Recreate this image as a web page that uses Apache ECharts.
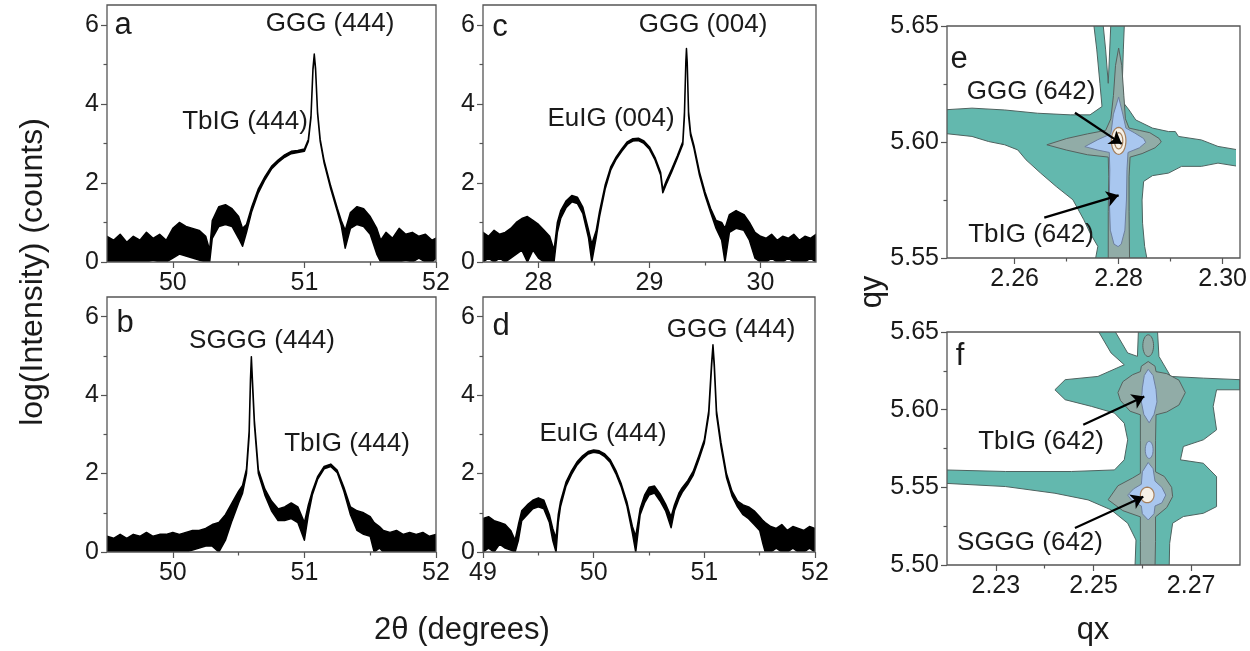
<!DOCTYPE html>
<html>
<head>
<meta charset="utf-8">
<script src="https://cdn.jsdelivr.net/npm/echarts@6/dist/echarts.min.js"></script>
<style>
html,body{margin:0;padding:0;background:#fff;}
#c{width:1250px;height:651px;}
</style>
</head>
<body>
<div id="c"></div>
<script>
// ---------------- DATA ----------------
// Panel a: TbIG on GGG (444), 2theta vs log(I); lo/hi = lower/upper envelope of the trace
const aX  = [49.50,49.55,49.60,49.65,49.70,49.75,49.80,49.85,49.90,49.95,50.00,50.05,50.10,50.15,50.20,50.25,50.28,50.30,50.35,50.40,50.45,50.50,50.53,50.56,50.60,50.65,50.70,50.75,50.80,50.85,50.90,50.95,51.00,51.03,51.05,51.065,51.075,51.085,51.10,51.12,51.15,51.20,51.25,51.28,51.31,51.35,51.40,51.45,51.50,51.55,51.58,51.62,51.67,51.72,51.77,51.82,51.87,51.92,51.97,52.00];
const aLo = [0,0,0,0,0,0,0,0.05,0,0,0.1,0.2,0.15,0.1,0.05,0,0,0.6,0.9,0.95,0.9,0.6,0.4,0.75,1.28,1.75,2.08,2.35,2.52,2.65,2.74,2.77,2.80,3.05,3.65,4.85,5.22,4.85,3.75,3.05,2.50,1.85,1.28,0.92,0.35,0.85,0.95,0.90,0.70,0.20,0,0,0,0,0.05,0,0.1,0,0,0.1];
const aHi = [0.65,0.55,0.70,0.50,0.65,0.55,0.75,0.60,0.70,0.55,0.85,1.00,0.90,0.85,0.80,0.65,0.30,1.05,1.40,1.45,1.35,1.15,0.85,0.95,1.40,1.85,2.16,2.42,2.58,2.71,2.80,2.82,2.86,3.10,3.70,4.90,5.26,4.90,3.80,3.10,2.56,1.92,1.36,1.05,0.80,1.25,1.40,1.35,1.15,0.85,0.55,0.75,0.60,0.85,0.70,0.75,0.65,0.70,0.55,0.60];

// Panel b: TbIG on SGGG (444)
const bX  = [49.50,49.55,49.60,49.65,49.70,49.75,49.80,49.85,49.90,49.95,50.00,50.05,50.10,50.15,50.20,50.25,50.30,50.35,50.40,50.45,50.50,50.53,50.56,50.58,50.59,50.597,50.605,50.62,50.65,50.70,50.75,50.80,50.85,50.90,50.95,51.00,51.03,51.06,51.10,51.15,51.20,51.25,51.30,51.35,51.40,51.45,51.50,51.53,51.57,51.60,51.65,51.70,51.75,51.80,51.85,51.90,51.95,52.00];
const bLo = [0,0,0,0,0,0,0,0,0,0,0,0,0,0.05,0.1,0.15,0.15,0,0.3,0.8,1.25,1.50,2.00,2.95,4.30,4.92,4.30,3.25,2.00,1.45,1.05,0.80,0.80,0.85,0.75,0.30,0.95,1.45,1.85,2.12,2.18,2.02,1.55,0.95,0.55,0.45,0.40,0,0.1,0,0,0,0,0,0,0,0,0];
const bHi = [0.40,0.35,0.45,0.35,0.45,0.40,0.50,0.40,0.45,0.45,0.50,0.45,0.50,0.55,0.55,0.60,0.70,0.75,0.95,1.25,1.55,1.70,2.12,3.08,4.40,4.98,4.40,3.35,2.10,1.60,1.30,1.10,1.15,1.25,1.15,0.75,1.20,1.55,1.92,2.18,2.24,2.08,1.65,1.15,1.05,1.00,0.90,0.75,0.65,0.55,0.50,0.55,0.45,0.50,0.45,0.50,0.40,0.45];

// Panel c: EuIG on GGG (004)
const cX  = [27.50,27.55,27.60,27.65,27.70,27.75,27.80,27.85,27.90,27.95,28.00,28.05,28.10,28.14,28.17,28.20,28.25,28.30,28.35,28.40,28.45,28.48,28.52,28.55,28.60,28.65,28.70,28.75,28.80,28.85,28.90,28.95,29.00,29.05,29.10,29.12,29.15,29.20,29.25,29.30,29.315,29.327,29.333,29.34,29.352,29.37,29.40,29.45,29.50,29.55,29.60,29.65,29.68,29.72,29.78,29.85,29.90,29.95,30.00,30.05,30.10,30.15,30.20,30.25,30.30,30.35,30.40,30.45,30.50];
const cLo = [0,0.1,0,0.1,0,0.1,0.2,0.3,0,0.3,0.1,0,0,0,0.75,1.10,1.38,1.52,1.48,1.22,0.62,0,0.62,1.15,1.84,2.32,2.60,2.80,2.98,3.06,3.07,3.00,2.85,2.58,2.20,1.75,1.96,2.28,2.62,2.97,3.70,5.00,5.35,5.00,3.70,3.20,2.88,2.20,1.69,1.26,0.85,0.55,0,0.75,0.85,0.80,0.55,0.10,0,0,0.1,0,0,0.1,0,0,0,0.1,0];
const cHi = [0.75,0.65,0.80,0.70,0.75,0.85,1.00,1.10,1.15,1.05,0.95,0.80,0.65,0.30,1.00,1.30,1.55,1.68,1.64,1.38,0.82,0.45,0.80,1.28,1.94,2.40,2.66,2.86,3.04,3.12,3.13,3.06,2.91,2.64,2.27,1.82,2.04,2.35,2.68,3.04,3.80,5.05,5.40,5.05,3.80,3.27,2.95,2.28,1.77,1.36,1.05,1.00,0.85,1.20,1.30,1.20,1.00,0.75,0.65,0.60,0.70,0.55,0.65,0.60,0.70,0.55,0.65,0.60,0.70];

// Panel d: EuIG on GGG (444)
const dX  = [49.00,49.05,49.10,49.15,49.20,49.25,49.29,49.32,49.35,49.40,49.45,49.50,49.55,49.60,49.63,49.66,49.68,49.70,49.75,49.80,49.85,49.90,49.95,50.00,50.05,50.10,50.15,50.20,50.25,50.30,50.35,50.38,50.42,50.46,50.50,50.55,50.60,50.65,50.70,50.73,50.77,50.80,50.85,50.90,50.95,51.00,51.04,51.065,51.078,51.09,51.11,51.15,51.20,51.25,51.30,51.35,51.40,51.45,51.50,51.53,51.55,51.60,51.65,51.70,51.75,51.80,51.85,51.90,51.95,52.00];
const dLo = [0,0.1,0,0.2,0.1,0.05,0,0.3,0.8,0.95,1.10,1.15,1.10,0.75,0.3,0,0.75,1.15,1.68,1.98,2.22,2.38,2.50,2.54,2.52,2.43,2.28,2.00,1.65,1.18,0.48,0,0.95,1.25,1.45,1.50,1.30,1.05,0.62,1.05,1.35,1.52,1.72,1.96,2.35,2.78,3.50,4.70,5.23,4.70,3.50,2.70,1.90,1.43,1.15,0.95,0.85,0.70,0.55,0.2,0,0,0.1,0,0,0.1,0,0,0.1,0];
const dHi = [0.85,0.90,0.80,0.75,0.70,0.55,0.30,0.70,1.05,1.20,1.32,1.38,1.32,0.95,0.60,0.35,0.95,1.28,1.78,2.07,2.30,2.45,2.56,2.60,2.58,2.50,2.35,2.08,1.73,1.28,0.65,0.40,1.10,1.45,1.65,1.68,1.48,1.22,0.90,1.20,1.50,1.64,1.82,2.06,2.45,2.86,3.60,4.80,5.28,4.80,3.60,2.80,2.00,1.55,1.30,1.20,1.15,1.05,0.90,0.80,0.75,0.65,0.60,0.70,0.55,0.65,0.60,0.55,0.65,0.60];

// Panel e: RSM contours (qx, qy), level 1 (lowest) .. level 4 (highest)
const eLevel1 = [[2.2752,5.651],[2.2770,5.651],[2.2775,5.6397],[2.2780,5.6253],[2.2785,5.651],[2.2811,5.651],[2.2809,5.6397],[2.2807,5.6253],[2.2810,5.6167],[2.2820,5.6138],[2.2833,5.6095],[2.2865,5.6060],[2.2896,5.6045],[2.2909,5.6045],[2.2915,5.6024],[2.2959,5.6009],[2.2991,5.5981],[2.3030,5.5966],[2.3030,5.5895],[2.2991,5.5909],[2.2959,5.5895],[2.2921,5.5895],[2.2896,5.5866],[2.2865,5.5855],[2.2848,5.5830],[2.2845,5.5750],[2.2846,5.5650],[2.2850,5.5550],[2.2855,5.5490],[2.2755,5.5490],[2.2760,5.5550],[2.2745,5.5608],[2.2733,5.5665],[2.2712,5.5751],[2.2680,5.5808],[2.2650,5.5866],[2.2622,5.5923],[2.2606,5.5966],[2.2581,5.5988],[2.2550,5.6002],[2.2518,5.6024],[2.2460,5.6038],[2.2460,5.6138],[2.2518,5.6146],[2.2581,5.6138],[2.2644,5.6124],[2.2707,5.6117],[2.2745,5.6117],[2.2768,5.6153],[2.2764,5.6253],[2.2758,5.6397]];
const eLevel2 = [[2.2800,5.6405],[2.2806,5.6330],[2.2810,5.6200],[2.2813,5.6100],[2.2820,5.6060],[2.2840,5.6050],[2.2860,5.6040],[2.2878,5.6015],[2.2882,5.6000],[2.2870,5.5975],[2.2845,5.5950],[2.2822,5.5935],[2.2820,5.5850],[2.2820,5.5700],[2.2821,5.5490],[2.2780,5.5490],[2.2780,5.5700],[2.2781,5.5850],[2.2780,5.5935],[2.2740,5.5945],[2.2700,5.5965],[2.2662,5.5988],[2.2700,5.6015],[2.2740,5.6035],[2.2775,5.6050],[2.2785,5.6100],[2.2790,5.6200],[2.2794,5.6330]];
const eLevel3 = [[2.2800,5.6194],[2.2808,5.6120],[2.2814,5.6060],[2.2830,5.6040],[2.2848,5.6015],[2.2852,5.5998],[2.2840,5.5975],[2.2818,5.5955],[2.2816,5.5880],[2.2815,5.5750],[2.2812,5.5620],[2.2805,5.5560],[2.2799,5.5549],[2.2791,5.5560],[2.2784,5.5620],[2.2782,5.5750],[2.2783,5.5880],[2.2782,5.5955],[2.2760,5.5965],[2.2735,5.5980],[2.2760,5.6010],[2.2785,5.6035],[2.2790,5.6120]];
const eLevel4 = [[2.2800,5.6005,0.0014,0.0058],[2.2800,5.6005,0.0008,0.0035]]; // centre qx, qy, half-widths
const eArrows = [[[2.2716,5.6126],[2.2806,5.5992]],[[2.2657,5.5674],[2.2800,5.5770]]];

// Panel f: RSM contours
const fLevel1 = [[2.2509,5.651],[2.2543,5.651],[2.2570,5.6365],[2.2590,5.6343],[2.2592,5.651],[2.2631,5.651],[2.2634,5.6343],[2.2658,5.6214],[2.2725,5.6203],[2.2800,5.6193],[2.2800,5.6128],[2.2752,5.6128],[2.2745,5.6021],[2.2752,5.5870],[2.2725,5.5806],[2.2684,5.5763],[2.2678,5.5677],[2.2725,5.5655],[2.2752,5.5569],[2.2752,5.5376],[2.2725,5.5333],[2.2684,5.5312],[2.2662,5.5269],[2.2656,5.5140],[2.2655,5.4990],[2.2585,5.4990],[2.2587,5.5161],[2.2570,5.5269],[2.2536,5.5355],[2.2489,5.5419],[2.2421,5.5462],[2.2320,5.5505],[2.2195,5.5526],[2.2195,5.5612],[2.2320,5.5602],[2.2455,5.5602],[2.2543,5.5612],[2.2563,5.5677],[2.2570,5.5806],[2.2563,5.5913],[2.2543,5.5978],[2.2496,5.6021],[2.2442,5.6064],[2.2421,5.6128],[2.2442,5.6193],[2.2509,5.6214],[2.2563,5.6289],[2.2536,5.6365]];
const fLevel2 = [[2.2612,5.6310],[2.2626,5.6280],[2.2628,5.6245],[2.2650,5.6232],[2.2675,5.6190],[2.2688,5.6110],[2.2675,5.6030],[2.2650,5.5985],[2.2628,5.5967],[2.2627,5.5800],[2.2627,5.5600],[2.2645,5.5570],[2.2660,5.5500],[2.2662,5.5440],[2.2650,5.5370],[2.2627,5.5310],[2.2627,5.5150],[2.2626,5.4990],[2.2596,5.4990],[2.2596,5.5150],[2.2596,5.5310],[2.2560,5.5350],[2.2530,5.5420],[2.2550,5.5510],[2.2580,5.5560],[2.2596,5.5590],[2.2596,5.5800],[2.2596,5.5967],[2.2575,5.5990],[2.2555,5.6060],[2.2550,5.6110],[2.2560,5.6180],[2.2580,5.6225],[2.2596,5.6245],[2.2598,5.6280]];
const fLevel2Spots = [[2.2612,5.6412,0.0011,0.0070]];
const fLevel3Up  = [[2.2612,5.6260],[2.2622,5.6220],[2.2628,5.6130],[2.2630,5.6050],[2.2624,5.5970],[2.2614,5.5915],[2.2603,5.5970],[2.2598,5.6050],[2.2600,5.6140],[2.2604,5.6220]];
const fLevel3Low = [[2.2612,5.5660],[2.2622,5.5620],[2.2626,5.5540],[2.2640,5.5500],[2.2648,5.5450],[2.2640,5.5400],[2.2626,5.5380],[2.2624,5.5330],[2.2612,5.5290],[2.2600,5.5330],[2.2598,5.5380],[2.2580,5.5410],[2.2570,5.5450],[2.2582,5.5490],[2.2598,5.5520],[2.2600,5.5600]];
const fLevel3Spots = [[2.2614,5.5741,0.0008,0.0055]];
const fLevel4 = [[2.2610,5.5451,0.0014,0.0050]];
const fArrows = [[[2.2479,5.5903],[2.2604,5.6085]],[[2.2462,5.5238],[2.2602,5.5440]]];

// Tick values
const xTicksAB = [50,51,52], xMinorAB = [50.5,51.5];
const xTicksC  = [28,29,30], xMinorC  = [28.5,29.5];
const xTicksD  = [49,50,51,52], xMinorD = [49.5,50.5,51.5];
const yTicksXRD = [0,2,4,6], yMinorXRD = [1,3,5];
const xTicksE = [2.26,2.28,2.30], xMinorE = [2.27,2.29];
const yTicksE = [5.55,5.60,5.65], yMinorE = [5.575,5.625];
const xTicksF = [2.23,2.25,2.27], xMinorF = [2.24,2.26];
const yTicksF = [5.50,5.55,5.60,5.65], yMinorF = [5.525,5.575,5.625];

// ---------------- LAYOUT / STYLE ----------------
const FONT = "'Liberation Sans', Arial, Helvetica, sans-serif";
const AX = '#555';
const TXT = '#1a1a1a';

const panels = [
  {g:[107,5,329,257],  xr:[49.5,52],   yr:[0,6.5],     xt:xTicksAB, xm:xMinorAB, yt:yTicksXRD, ym:yMinorXRD, dx:0, dy:0},
  {g:[107,297,329,255],xr:[49.5,52],   yr:[0,6.5],     xt:xTicksAB, xm:xMinorAB, yt:yTicksXRD, ym:yMinorXRD, dx:0, dy:0},
  {g:[483,5,333,257],  xr:[27.5,30.5], yr:[0,6.5],     xt:xTicksC,  xm:xMinorC,  yt:yTicksXRD, ym:yMinorXRD, dx:0, dy:0},
  {g:[483,297,332,255],xr:[49,52],     yr:[0,6.5],     xt:xTicksD,  xm:xMinorD,  yt:yTicksXRD, ym:yMinorXRD, dx:0, dy:0},
  {g:[947,26,293,232], xr:[2.247,2.3025], yr:[5.55,5.65], xt:xTicksE, xm:xMinorE, yt:yTicksE, ym:yMinorE, dx:2, dy:2},
  {g:[947,332,293,233],xr:[2.22,2.28], yr:[5.50,5.65], xt:xTicksF, xm:xMinorF, yt:yTicksF, ym:yMinorF, dx:2, dy:2}
];

const grids = [], xAxes = [], yAxes = [], series = [], graphics = [];
panels.forEach((p, i) => {
  grids.push({left:p.g[0], top:p.g[1], width:p.g[2], height:p.g[3], show:false, containLabel:false});
  const lblX = {show:true, customValues:p.xt, fontSize:25, fontFamily:FONT, color:TXT, margin:9,
                formatter: v => Number(v).toFixed(p.dx)};
  const lblY = {show:true, customValues:p.yt, fontSize:25, fontFamily:FONT, color:TXT, margin:8,
                formatter: v => Number(v).toFixed(p.dy)};
  xAxes.push({gridIndex:i, type:'value', min:p.xr[0], max:p.xr[1], position:'bottom',
    axisLine:{show:false, onZero:false}, splitLine:{show:false},
    axisTick:{show:true, customValues:p.xt, length:6, lineStyle:{color:AX, width:1.2}}, axisLabel:lblX});
  xAxes.push({gridIndex:i, type:'value', min:p.xr[0], max:p.xr[1], position:'bottom',
    axisLine:{show:false, onZero:false}, splitLine:{show:false},
    axisTick:{show:true, customValues:p.xm, length:3.5, lineStyle:{color:AX, width:1.2}}, axisLabel:{show:false}});
  yAxes.push({gridIndex:i, type:'value', min:p.yr[0], max:p.yr[1], position:'left',
    axisLine:{show:false, onZero:false}, splitLine:{show:false},
    axisTick:{show:true, customValues:p.yt, length:6, lineStyle:{color:AX, width:1.2}}, axisLabel:lblY});
  yAxes.push({gridIndex:i, type:'value', min:p.yr[0], max:p.yr[1], position:'left',
    axisLine:{show:false, onZero:false}, splitLine:{show:false},
    axisTick:{show:true, customValues:p.ym, length:3.5, lineStyle:{color:AX, width:1.2}}, axisLabel:{show:false}});
  graphics.push({type:'rect', z:100, silent:true,
    shape:{x:p.g[0], y:p.g[1], width:p.g[2], height:p.g[3]},
    style:{fill:null, stroke:AX, lineWidth:1.3}});
});

// XRD traces: filled envelope band between lower and upper trace values
const traces = [[aX,aLo,aHi],[bX,bLo,bHi],[cX,cLo,cHi],[dX,dLo,dHi]];
traces.forEach((t, i) => {
  const [X, LO, HI] = t;
  series.push({type:'custom', coordinateSystem:'cartesian2d', xAxisIndex:2*i, yAxisIndex:2*i,
    clip:true, silent:true, animation:false,
    data:[[X[0], LO[0]]],
    renderItem: (params, api) => {
      const pts = [];
      for (let k = 0; k < X.length; k++) pts.push(api.coord([X[k], HI[k]]));
      for (let k = X.length - 1; k >= 0; k--) pts.push(api.coord([X[k], LO[k]]));
      return {type:'polygon', shape:{points:pts},
              style:{fill:'#000', stroke:'#000', lineWidth:1.5, lineJoin:'round'}};
    }});
});

// Contour polygons
function ellipse(c){ const pts=[]; for(let k=0;k<32;k++){const a=2*Math.PI*k/32; pts.push([c[0]+c[2]*Math.cos(a), c[1]+c[3]*Math.sin(a)]);} return pts; }
const TEAL = {fill:'#63b8ae', stroke:'#4e6360', lw:1};
const GRAY = {fill:'#91aca7', stroke:'#56625f', lw:1};
const BLUE = {fill:'#a9c7ef', stroke:'#6d7f9e', lw:1};
const CORE = {fill:'#f6f1e8', stroke:'#a5805e', lw:1.2};
const ePolys = [
  Object.assign({pts:eLevel1}, TEAL),
  Object.assign({pts:eLevel2}, GRAY),
  Object.assign({pts:eLevel3}, BLUE),
  ...eLevel4.map(c => Object.assign({pts:ellipse(c)}, CORE))
];
const fPolys = [
  Object.assign({pts:fLevel1}, TEAL),
  Object.assign({pts:fLevel2}, GRAY),
  ...fLevel2Spots.map(c => Object.assign({pts:ellipse(c)}, GRAY)),
  Object.assign({pts:fLevel3Up}, BLUE),
  Object.assign({pts:fLevel3Low}, BLUE),
  ...fLevel3Spots.map(c => Object.assign({pts:ellipse(c)}, BLUE)),
  ...fLevel4.map(c => Object.assign({pts:ellipse(c)}, CORE))
];
[[ePolys,4],[fPolys,5]].forEach(([polys, i]) => {
  series.push({type:'custom', coordinateSystem:'cartesian2d', xAxisIndex:2*i, yAxisIndex:2*i,
    clip:true, silent:true, animation:false,
    data: polys.map((p,k) => [p.pts[0][0], p.pts[0][1], k]),
    renderItem: (params, api) => {
      const p = polys[params.dataIndex];
      return {type:'polygon', shape:{points:p.pts.map(q => api.coord(q))},
              style:{fill:p.fill, stroke:p.stroke, lineWidth:p.lw}};
    }});
});
[[eArrows,4],[fArrows,5]].forEach(([arr, i]) => {
  series.push({type:'lines', coordinateSystem:'cartesian2d', xAxisIndex:2*i, yAxisIndex:2*i,
    silent:true, animation:false, z:5, symbol:['none','arrow'], symbolSize:12,
    lineStyle:{color:'#000', width:2.2, opacity:1, curveness:0},
    data: arr.map(a => ({coords:a}))});
});

// Text annotations
function txt(t, x, y, size, rot){
  return {type:'text', x:x, y:y, rotation:rot||0, z:120, silent:true,
    style:{text:t, fill:TXT, font:size+'px '+FONT, fontSize:size, fontFamily:FONT,
           align:'center', verticalAlign:'middle', textAlign:'center', textVerticalAlign:'middle'}};
}
graphics.push(
  txt('a',123,25,31), txt('GGG (444)',330,24,26), txt('TbIG (444)',245,122,26),
  txt('b',125,323,31), txt('SGGG (444)',262,341,26), txt('TbIG (444)',347,444,26),
  txt('c',500,27,31), txt('GGG (004)',703,25,26), txt('EuIG (004)',611,119,26),
  txt('d',501,326,31), txt('GGG (444)',731,330,26), txt('EuIG (444)',603,434,26),
  txt('e',959,59,31), txt('GGG (642)',1031,92,26), txt('TbIG (642)',1031,235,26),
  txt('f',960,356,31), txt('TbIG (642)',1041,442,26), txt('SGGG (642)',1030,543,26),
  txt('log(Intensity) (counts)',33,272,32,Math.PI/2),
  txt('2θ (degrees)',462,630,31),
  txt('qy',872,292,31,Math.PI/2),
  txt('qx',1093,630,31)
);

const chart = echarts.init(document.getElementById('c'));
chart.setOption({
  animation:false,
  backgroundColor:'#fff',
  grid:grids, xAxis:xAxes, yAxis:yAxes, series:series, graphic:graphics
});
</script>
</body>
</html>
